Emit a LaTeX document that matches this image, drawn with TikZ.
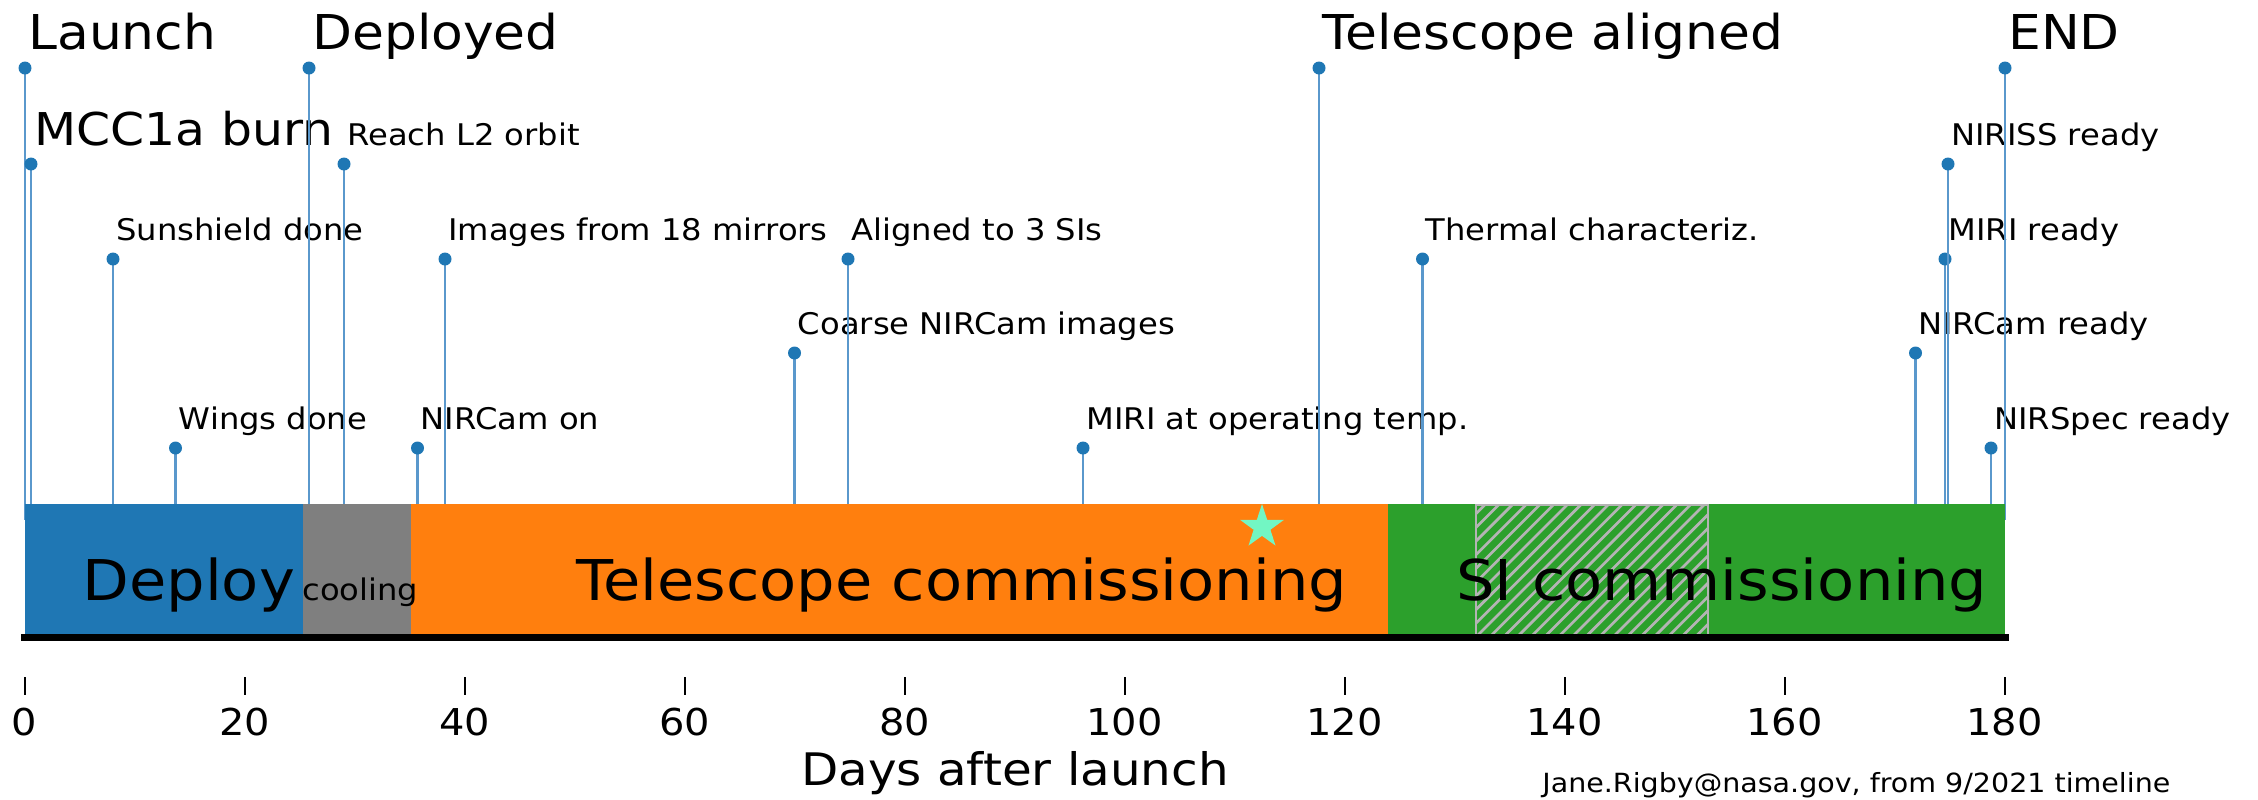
\documentclass[tikz,border=0pt]{standalone}
\usepackage{fontspec}
\setmainfont{DejaVu Sans}[FakeStretch=1.08]
\usetikzlibrary{shapes.geometric}
\definecolor{cblue}{HTML}{1F77B4}
\definecolor{cstem}{HTML}{5A98CC}
\definecolor{cgray}{HTML}{7F7F7F}
\definecolor{corange}{HTML}{FF7F0E}
\definecolor{cgreen}{HTML}{2CA02C}
\definecolor{chatch}{HTML}{B4B4B4}
\definecolor{cstar}{HTML}{72F6C3}
\begin{document}
\begin{tikzpicture}[x=0.5pt,y=-0.5pt,
  stemline/.style={draw=cstem,line width=1.2pt},
  evdot/.style={circle,fill=cblue,inner sep=0pt,minimum size=6.5pt},
  evlab/.style={anchor=base west,inner sep=0pt},
  barlab/.style={anchor=base west,inner sep=0pt,font=\fontsize{28.1}{30}\selectfont},
  tickmark/.style={draw=black,line width=1pt},
  ticklab/.style={anchor=base,inner sep=0pt,font=\fontsize{18.5}{20}\selectfont}]
\useasboundingbox (0,0) rectangle (2258,799);
% event stems
\foreach \i/\x/\y/\fs/\txt in {
  1/25/68/24/Launch,
  2/31/164/22.6/MCC1a burn,
  3/113/259/14.9/Sunshield done,
  4/175.5/448/14.9/Wings done,
  5/309/68/24/Deployed,
  6/344/164/14.9/Reach L2 orbit,
  7/417.5/448/14.9/NIRCam on,
  8/445/259/14.9/Images from 18 mirrors,
  9/794.5/353/14.9/Coarse NIRCam images,
  10/848/259/14.9/Aligned to 3 SIs,
  11/1083/448/14.9/MIRI at operating temp.,
  12/1319/68/24/Telescope aligned,
  13/1422.5/259/14.9/Thermal characteriz.,
  14/1915.5/353/14.9/NIRCam ready,
  15/1945/259/14.9/MIRI ready,
  16/1948/164/14.9/NIRISS ready,
  17/1991/448/14.9/NIRSpec ready,
  18/2005/68/24/END}{
  \coordinate (e\i) at (\x,\y);
  \coordinate (b\i) at (\x,520);
  \draw[stemline] (e\i) -- (b\i);
  \node[evdot] (d\i) at (e\i) {};
  \node[evlab,font=\fontsize{\fs}{\fs}\selectfont] (l\i) at (\x+3,\y-19) {\txt};
}
% phase bar
\fill[cblue] (24.5,504) rectangle (303,637);
\fill[cgray] (303,504) rectangle (411,637);
\fill[corange] (411,504) rectangle (1388,637);
\fill[cgreen] (1388,504) rectangle (2005,637);
\begin{scope}
  \clip (1476,505) rectangle (1708,634);
  \foreach \k in {0,...,30}{
    \draw[chatch,line width=1.35pt] ({1476-150+\k*13.7},650) -- ++(170,-170);
  }
\end{scope}
\draw[chatch,line width=1.2pt] (1476,634) -- (1476,505) -- (1708,505) -- (1708,634);
\draw[black,line width=3.5pt,line cap=rect] (24.5,637.5) -- (2005,637.5);
\node[barlab] (pdeploy) at (82,600) {Deploy};
\node[anchor=base west,inner sep=0pt,font=\fontsize{14.9}{16}\selectfont] (pcool) at (302,600) {cooling};
\node[barlab] (ptel) at (576,600) {Telescope commissioning};
\node[barlab] (psi) at (1456,600) {SI commissioning};
\node[star,star points=5,star point ratio=2.6,fill=cstar,inner sep=0pt,minimum size=23pt] (today) at (1262,527) {};
% axis
\foreach \t in {0,20,...,180}{
  \coordinate (tk\t) at ({24.5+11*\t},677);
  \coordinate (tke\t) at ({24.5+11*\t},695);
  \draw[tickmark] (tk\t) -- (tke\t);
  \node[ticklab] (tl\t) at ({24.5+11*\t},735) {\t};
}
\node[anchor=base,inner sep=0pt,font=\fontsize{22.4}{24}\selectfont] (xlab) at (1015,785) {Days after launch};
\node[anchor=base west,inner sep=0pt,font=\fontsize{13.2}{14}\selectfont] (credit) at (1542,792) {Jane.Rigby@nasa.gov, from 9/2021 timeline};
\end{tikzpicture}
\end{document}
